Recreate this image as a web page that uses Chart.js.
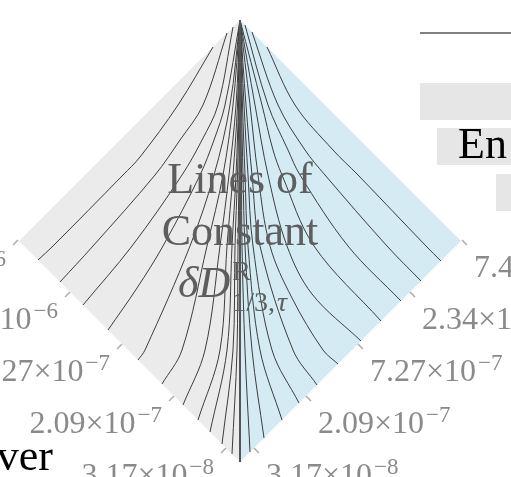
<!DOCTYPE html>
<html>
<head>
<meta charset="utf-8">
<script src="https://cdn.jsdelivr.net/npm/chart.js@4.4.1/dist/chart.umd.min.js"></script>
<style>
html, body { margin: 0; padding: 0; background: #fff; }
canvas { display: block; }
</style>
</head>
<body>
<canvas id="diamond" width="511" height="477"></canvas>
<script>
// plot units: x = offset from the centre line, y = height above the bottom corner
const half = 221;

// ticks along both lower edges (distance from the bottom corner) and their labels
const tickPos = [14, 66, 118, 170, 222];
const tickMantissa = ['3.17', '2.09', '7.27', '2.34', '7.40'];
const tickExponent = ['8', '7', '7', '6', '6'];

// contour lines, [offset from centre, height]
const leftCurves = [
  [[27, 415], [62, 357], [100, 305], [117, 287], [187, 216], [202, 202]],
  [[13, 429], [37, 357], [60, 322], [85, 287], [147, 216], [180, 180]],
  [[7, 435], [22, 357], [38, 322], [58, 287], [108, 216], [157, 157]],
  [[0, 442], [15, 357], [26, 322], [40, 287], [77, 216], [103, 174], [132, 132]],
  [[0, 442], [10, 357], [26, 287], [50, 216], [95, 112], [102, 102]],
  [[0, 442], [7, 357], [17, 287], [33, 216], [58, 112], [78, 78]],
  [[0, 442], [4, 357], [11, 287], [20, 216], [35, 112], [57, 57]],
  [[0, 442], [2.5, 357], [7, 287], [13, 216], [20, 112], [42, 42]],
  [[0, 442], [1.5, 357], [4, 287], [8, 216], [13, 112], [30, 30]],
  [[0, 442], [1, 357], [2.5, 287], [5, 216], [7, 112], [18, 18]],
  [[0, 442], [0.5, 357], [1, 287], [2, 216], [3, 112], [8, 8]]
];
const rightCurves = [
  [[27, 415], [55, 357], [93, 312], [118, 287], [186, 216], [201, 201]],
  [[12, 430], [38, 357], [65, 312], [85, 287], [147, 216], [181, 181]],
  [[5, 437], [28, 357], [48, 312], [60, 287], [108, 216], [161, 161]],
  [[0, 442], [22, 357], [33, 312], [42, 287], [74, 216], [141, 141]],
  [[0, 442], [15, 357], [28, 287], [47, 216], [72, 168], [121, 121]],
  [[0, 442], [10, 357], [18, 287], [30, 216], [52, 164], [83, 112], [98, 98]],
  [[0, 442], [6, 357], [12, 287], [20, 216], [53, 112], [77, 77]],
  [[0, 442], [4, 357], [8, 287], [13, 216], [32, 112], [59, 59]],
  [[0, 442], [2.5, 357], [5, 287], [8, 216], [20, 112], [42, 42]],
  [[0, 442], [1.5, 357], [3, 287], [5, 216], [12, 112], [24, 24]],
  [[0, 442], [0.8, 357], [1.5, 287], [2, 216], [5, 112], [10, 10]]
];

const SERIF = '"Liberation Serif", "DejaVu Serif", serif';

function toPoints(curve, side) {
  return curve.map(p => ({x: side * p[0], y: p[1]}));
}

function halfDiamond(side) {
  return [{x: 0, y: 2 * half}, {x: side * half, y: half}, {x: 0, y: 0}, {x: 0, y: 2 * half}];
}

var datasets = [];
datasets.push({
  data: halfDiamond(-1), fill: 'shape', backgroundColor: '#ebebeb',
  borderWidth: 0, borderColor: 'rgba(0,0,0,0)', pointRadius: 0, tension: 0, order: 10
});
datasets.push({
  data: halfDiamond(1), fill: 'shape', backgroundColor: '#d4ebf4',
  borderWidth: 0, borderColor: 'rgba(0,0,0,0)', pointRadius: 0, tension: 0, order: 10
});
leftCurves.forEach(c => datasets.push({
  data: toPoints(c, -1), borderColor: '#3d3d3d', borderWidth: 1, pointRadius: 0, tension: 0.35, fill: false, order: 2
}));
rightCurves.forEach(c => datasets.push({
  data: toPoints(c, 1), borderColor: '#3d3d3d', borderWidth: 1, pointRadius: 0, tension: 0.35, fill: false, order: 2
}));
// centre line
datasets.push({
  data: [{x: 0, y: 0}, {x: 0, y: 2 * half}], borderColor: '#555555', borderWidth: 2,
  pointRadius: 0, fill: false, order: 0
});

function drawTickLabel(ctx, x, y, mant, exp, align) {
  var main = mant + '\u00d710', sup = '\u2212' + exp;
  ctx.font = '32px ' + SERIF;
  var w1 = ctx.measureText(main).width;
  ctx.font = '23px ' + SERIF;
  var w2 = ctx.measureText(sup).width;
  var x0 = align === 'right' ? x - (w1 + 2 + w2) : x;
  ctx.textAlign = 'left';
  ctx.font = '32px ' + SERIF;
  ctx.fillText(main, x0, y);
  ctx.font = '23px ' + SERIF;
  ctx.fillText(sup, x0 + w1 + 2, y - 11);
}

const extras = {
  id: 'extras',
  afterDatasetsDraw(chart) {
    var ctx = chart.ctx, xs = chart.scales.x, ys = chart.scales.y;
    ctx.save();

    // edge ticks + labels
    ctx.strokeStyle = '#aaaaaa';
    ctx.lineWidth = 1.5;
    ctx.fillStyle = '#8a8a8a';
    ctx.textBaseline = 'alphabetic';
    tickPos.forEach((d, i) => {
      [-1, 1].forEach(side => {
        var px = xs.getPixelForValue(side * d), py = ys.getPixelForValue(d);
        ctx.beginPath();
        ctx.moveTo(px, py);
        ctx.lineTo(px + side * 5, py + 5);
        ctx.stroke();
        if (side < 0) drawTickLabel(ctx, px - 12, py + 37, tickMantissa[i], tickExponent[i], 'right');
        else drawTickLabel(ctx, px + 12, py + 37, tickMantissa[i], tickExponent[i], 'left');
      });
    });

    // centre title
    var cx = xs.getPixelForValue(0);
    ctx.fillStyle = '#5e5e5e';
    ctx.textAlign = 'center';
    ctx.font = '44px ' + SERIF;
    ctx.fillText('Lines of', cx, ys.getPixelForValue(269));
    ctx.fillText('Constant', cx, ys.getPixelForValue(217));
    var by = ys.getPixelForValue(165);
    ctx.textAlign = 'left';
    ctx.font = 'italic 44px ' + SERIF;
    var x0 = cx - 62;
    ctx.fillText('\u03b4D', x0, by);
    var xs0 = x0 + ctx.measureText('\u03b4D').width + 2;
    ctx.font = '28px ' + SERIF;
    ctx.fillText('R', xs0, by - 17);
    ctx.fillText('1/3,', xs0, by + 14);
    var wsub = ctx.measureText('1/3,').width;
    ctx.font = 'italic 28px ' + SERIF;
    ctx.fillText('\u03c4', xs0 + wsub + 2, by + 14);

    // pieces of the neighbouring legend / caption
    ctx.strokeStyle = '#000';
    ctx.lineWidth = 1.2;
    ctx.beginPath();
    ctx.moveTo(420, 33);
    ctx.lineTo(511, 33);
    ctx.stroke();
    ctx.fillStyle = '#e6e6e6';
    ctx.fillRect(420, 83, 91, 37);
    ctx.fillRect(437, 128, 74, 37);
    ctx.fillRect(496, 174, 15, 37);
    ctx.fillStyle = '#000';
    ctx.font = '44px ' + SERIF;
    ctx.textAlign = 'left';
    ctx.fillText('En', 458, 158);
    ctx.textAlign = 'right';
    ctx.fillText('ver', 53, 470);
    ctx.restore();
  }
};

new Chart(document.getElementById('diamond'), {
  type: 'line',
  data: {datasets: datasets},
  options: {
    responsive: false,
    animation: false,
    layout: {padding: 0},
    plugins: {legend: {display: false}, tooltip: {enabled: false}},
    scales: {
      x: {type: 'linear', min: -240, max: 271, display: false},
      y: {type: 'linear', min: -15, max: 462, display: false}
    }
  },
  plugins: [extras]
});
</script>
</body>
</html>
